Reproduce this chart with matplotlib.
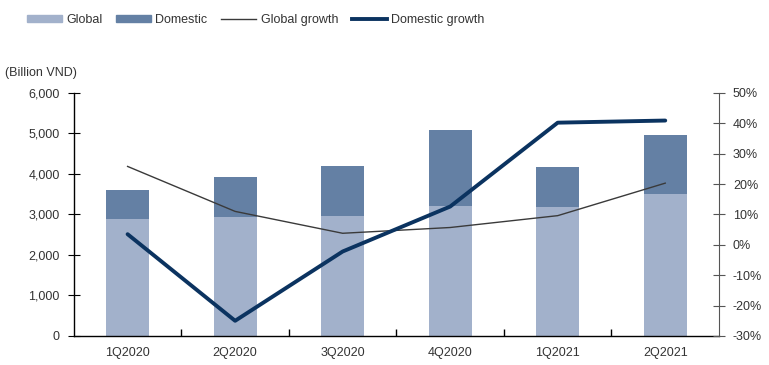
import matplotlib
matplotlib.use("Agg")
import matplotlib.pyplot as plt
import numpy as np
from matplotlib.patches import Patch
from matplotlib.lines import Line2D
from matplotlib.ticker import FuncFormatter

plt.rcParams['font.family'] = ['Liberation Sans', 'DejaVu Sans']
plt.rcParams['text.color'] = '#333333'
plt.rcParams['xtick.labelcolor'] = '#333333'
plt.rcParams['ytick.labelcolor'] = '#333333'

categories = ["1Q2020", "2Q2020", "3Q2020", "4Q2020", "1Q2021", "2Q2021"]
global_vals = [2890, 2930, 2955, 3210, 3185, 3505]
domestic_vals = [715, 1005, 1235, 1875, 990, 1460]
global_growth = [25.8, 11.0, 3.8, 5.7, 9.6, 20.3]
domestic_growth = [3.5, -25.0, -2.2, 12.6, 40.2, 40.9]

c_global = "#A2B1CB"
c_dom = "#6480A4"
c_domg = "#0B3360"
c_globg = "#3A3A3A"

fig = plt.figure(figsize=(7.69, 3.65), dpi=100)
ax = fig.add_axes([0.096, 0.0795, 0.839, 0.666])
x = np.arange(len(categories))
ax.bar(x, global_vals, width=0.4, color=c_global, zorder=2)
ax.bar(x, domestic_vals, bottom=global_vals, width=0.4, color=c_dom, zorder=2)
ax.set_xlim(-0.5, len(categories) - 0.5)
ax.set_ylim(0, 6000)
ax.set_yticks(range(0, 6001, 1000))
ax.yaxis.set_major_formatter(FuncFormatter(lambda v, p: f"{int(v):,}"))
ax.set_xticks(x)
ax.set_xticklabels(categories)
ax.tick_params(axis='x', length=0, labelsize=9, pad=8)
ax.set_xticks(np.arange(0.5, len(categories) - 0.5, 1), minor=True)
ax.tick_params(axis='x', which='minor', direction='in', length=5, width=1)
ax.tick_params(axis='y', direction='inout', length=8, labelsize=9, pad=6)
for s in ['top', 'right']:
    ax.spines[s].set_visible(False)
ax.spines['left'].set_linewidth(1)
ax.spines['bottom'].set_linewidth(1)

ax2 = ax.twinx()
ax2.plot(x, global_growth, color=c_globg, lw=1.0, zorder=3)
ax2.plot(x, domestic_growth, color=c_domg, lw=2.8, zorder=4, solid_capstyle='round')
ax2.set_ylim(-30, 50)
ax2.set_yticks(range(-30, 51, 10))
ax2.yaxis.set_major_formatter(FuncFormatter(lambda v, p: f"{int(v)}%"))
ax2.tick_params(axis='y', direction='inout', length=8, labelsize=9, pad=6, color="#555555")
for s in ['top', 'left', 'bottom']:
    ax2.spines[s].set_visible(False)
ax2.spines['right'].set_color("#555555")

fig.text(0.007, 0.80, "(Billion VND)", fontsize=9, ha='left', va='center')

handles = [Patch(color=c_global, label="Global"),
           Patch(color=c_dom, label="Domestic"),
           Line2D([], [], color=c_globg, lw=1.0, label="Global growth"),
           Line2D([], [], color=c_domg, lw=2.8, label="Domestic growth")]
fig.legend(handles=handles, loc='center left', bbox_to_anchor=(0.02, 0.945), ncol=4,
           frameon=False, fontsize=9, handlelength=2.8, handleheight=0.5,
           columnspacing=1.1, handletextpad=0.35)

fig.savefig("out.png", dpi=100)
